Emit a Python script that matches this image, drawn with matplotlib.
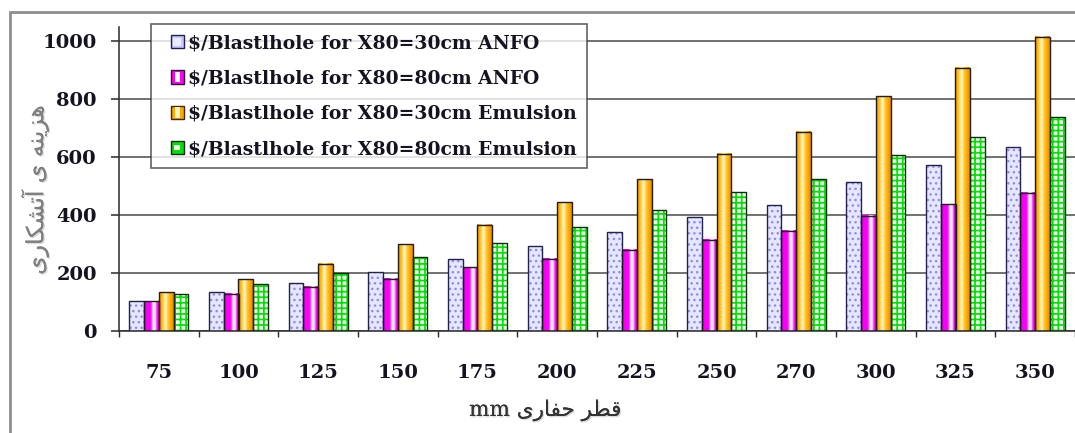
import numpy as np
import matplotlib
matplotlib.use("Agg")
import matplotlib.pyplot as plt
from matplotlib.colors import LinearSegmentedColormap
from matplotlib.patches import Rectangle
from matplotlib.legend_handler import HandlerBase
import matplotlib.patheffects as pe

# ---- data -------------------------------------------------------------
diameters = ["75", "100", "125", "150", "175", "200", "225", "250", "270", "300", "325", "350"]
anfo_x30 = [103, 134, 167, 205, 250, 294, 342, 394, 435, 513, 575, 636]
anfo_x80 = [103, 128, 153, 181, 221, 250, 280, 316, 346, 398, 437, 477]
emul_x30 = [133, 178, 233, 299, 367, 444, 524, 612, 688, 810, 910, 1017]
emul_x80 = [129, 164, 202, 257, 305, 360, 417, 479, 525, 607, 669, 738]
series_labels = [
    "$/Blastlhole for X80=30cm ANFO",
    "$/Blastlhole for X80=80cm ANFO",
    "$/Blastlhole for X80=30cm Emulsion",
    "$/Blastlhole for X80=80cm Emulsion",
]
y_ticks = [0, 200, 400, 600, 800, 1000]
y_title = "هزینه ی آتشکاری"
x_title = "قطر حفاری mm"

# ---- minimal Persian shaping (presentation forms, visual order) ------
FORMS = {
    'ا': ('\uFE8D', '\uFE8E'),
    'آ': ('\uFE81', '\uFE82'),
    'ر': ('\uFEAD', '\uFEAE'),
    'ز': ('\uFEAF', '\uFEB0'),
    'ت': ('\uFE95', '\uFE96', '\uFE97', '\uFE98'),
    'ح': ('\uFEA1', '\uFEA2', '\uFEA3', '\uFEA4'),
    'ش': ('\uFEB5', '\uFEB6', '\uFEB7', '\uFEB8'),
    'ط': ('\uFEC1', '\uFEC2', '\uFEC3', '\uFEC4'),
    'ف': ('\uFED1', '\uFED2', '\uFED3', '\uFED4'),
    'ق': ('\uFED5', '\uFED6', '\uFED7', '\uFED8'),
    'ک': ('\uFB8E', '\uFB8F', '\uFB90', '\uFB91'),
    'ن': ('\uFEE5', '\uFEE6', '\uFEE7', '\uFEE8'),
    'ه': ('\uFEE9', '\uFEEA', '\uFEEB', '\uFEEC'),
    'ی': ('\uFBFC', '\uFBFD', '\uFBFE', '\uFBFF'),
}


def shape_word(word):
    out = []
    for i, ch in enumerate(word):
        if ch not in FORMS:
            out.append(ch)
            continue
        prev = word[i - 1] if i > 0 else None
        nxt = word[i + 1] if i + 1 < len(word) else None
        jp = prev in FORMS and len(FORMS[prev]) == 4
        jn = len(FORMS[ch]) == 4 and nxt in FORMS
        idx = 3 if (jp and jn) else 1 if jp else 2 if jn else 0
        out.append(FORMS[ch][idx])
    return "".join(out)


def rtl(text):
    words = text.split(" ")
    vis = []
    for w in reversed(words):
        if any(c in FORMS for c in w):
            vis.append(shape_word(w)[::-1])
        else:
            vis.append(w)
    return " ".join(vis)


# ---- figure -----------------------------------------------------------
W, H = 1075, 433
fig = plt.figure(figsize=(W / 100, H / 100), dpi=100)
fig.patch.set_facecolor("white")

ax_left, ax_right, ax_top, ax_bottom = 119, 1075, 27, 331
ax = fig.add_axes([ax_left / W, 1 - ax_bottom / H, (ax_right - ax_left) / W, (ax_bottom - ax_top) / H])

# chart-area border
fig.add_artist(Rectangle((10 / W, -0.1), 1.2, 1.1 - 12 / H, transform=fig.transFigure,
                         fill=False, edgecolor="#8e8e8e", lw=2.0))

n = len(diameters)
x = np.arange(n)
bw = 0.185
offs = (np.arange(4) - 1.5) * bw
edge = "#1e1e1e"

ax.set_xlim(-0.5, n - 0.5)
ax.set_ylim(0, 1050)
ax.set_axisbelow(True)
ax.yaxis.grid(True, color="#4a4a4a", lw=1.1, zorder=0)

# series 1: lavender with blue dots
ax.bar(x + offs[0], anfo_x30, bw, color="#E6E6FF", edgecolor="#8C8CF0", hatch="...", lw=0, zorder=2)
ax.bar(x + offs[0], anfo_x30, bw, fill=False, edgecolor="#22224a", lw=1.0, zorder=3)

# series 2 & 3: cylinder-like horizontal gradients
mag_cmap = LinearSegmentedColormap.from_list("mag", [
    (0.0, "#F000F0"), (0.45, "#FF00FF"), (0.62, "#FFFFFF"), (0.76, "#FFD8FF"),
    (0.88, "#FF10FF"), (1.0, "#E800E8")])
org_cmap = LinearSegmentedColormap.from_list("org", [
    (0.0, "#EE8A00"), (0.15, "#FFB000"), (0.3, "#FFD660"), (0.45, "#FFF8D6"),
    (0.6, "#FFCC33"), (0.8, "#FFA800"), (1.0, "#EC8800")])
grad = np.linspace(0, 1, 64)[None, :]
for vals, off, cmap in ((anfo_x80, offs[1], mag_cmap), (emul_x30, offs[2], org_cmap)):
    for xi, v in zip(x, vals):
        ax.imshow(grad, cmap=cmap, extent=(xi + off - bw / 2, xi + off + bw / 2, 0, v),
                  aspect="auto", interpolation="bilinear", zorder=2)
    ax.bar(x + off, vals, bw, fill=False, edgecolor=edge, lw=1.0, zorder=3)

# series 4: green lattice with white squares
b4 = ax.bar(x + offs[3], emul_x80, bw, color="#F8FFF8", edgecolor="#00E000", hatch="+++", lw=0, zorder=2)
for p in b4:
    if hasattr(p, "set_hatch_linewidth"):
        p.set_hatch_linewidth(1.25)
ax.bar(x + offs[3], emul_x80, bw, fill=False, edgecolor="#0f2a0f", lw=1.0, zorder=3)

ax.set_xlim(-0.5, n - 0.5)
ax.set_ylim(0, 1050)

# axes styling
for s in ("top", "right"):
    ax.spines[s].set_visible(False)
for s in ("left", "bottom"):
    ax.spines[s].set_color("#2a2a2a")
    ax.spines[s].set_linewidth(1.1)

tick_font = dict(family="DejaVu Serif", weight="bold", size=14, color="#141420")
ax.set_yticks(y_ticks)
ax.set_yticklabels([str(t) for t in y_ticks], fontdict=tick_font)
ax.tick_params(axis="y", length=6, width=1.1, color="#2a2a2a", pad=10)
ax.set_xticks(x)
ax.set_xticklabels(diameters, fontdict=tick_font)
ax.tick_params(axis="x", which="major", length=0, pad=24)
ax.set_xticks(np.arange(n + 1) - 0.5, minor=True)
ax.tick_params(axis="x", which="minor", length=4, width=1.0, color="#2a2a2a")

# titles
shadow = [pe.withSimplePatchShadow(offset=(1, -1), shadow_rgbFace="#bbbbbb", alpha=0.5), pe.Normal()]
fig.text(35 / W, 1 - 190 / H, rtl(y_title), rotation=90, ha="center", va="center",
         family=["DejaVu Sans"], size=17, color="#808080", path_effects=shadow)
fig.text(545 / W, 1 - 410 / H, rtl(x_title), ha="center", va="center",
         family=["DejaVu Serif", "DejaVu Sans"], size=15.5, color="#333333", path_effects=shadow)


# legend swatches
class Swatch:
    def __init__(self, side, center, cw, ch, edgec):
        self.side, self.center, self.cw, self.ch, self.edgec = side, center, cw, ch, edgec


class SwatchHandler(HandlerBase):
    def create_artists(self, legend, h, xd, yd, width, height, fontsize, trans):
        s = min(width, height)
        x0 = width - s - xd
        y0 = -yd + (height - s) / 2
        outer = Rectangle((x0, y0), s, s, facecolor=h.side, edgecolor=h.edgec, lw=1.0, transform=trans)
        inner = Rectangle((x0 + s * (1 - h.cw) / 2, y0 + s * (1 - h.ch) / 2), s * h.cw, s * h.ch,
                          facecolor=h.center, edgecolor="none", transform=trans)
        return [outer, inner]


handles = [
    Swatch("#C8C8FF", "#ECECFF", 0.6, 0.6, "#22224a"),
    Swatch("#FF00FF", "#FFFFFF", 0.35, 0.8, "#301030"),
    Swatch("#FFA800", "#FFF4C0", 0.35, 0.8, "#40280a"),
    Swatch("#00E000", "#F0FFF0", 0.45, 0.45, "#0f2a0f"),
]
leg = ax.legend(handles, series_labels, handler_map={Swatch: SwatchHandler()},
                loc="upper left", bbox_to_anchor=(151 / W, 1 - 24 / H), bbox_transform=fig.transFigure,
                prop=dict(family="DejaVu Serif", weight="bold", size=13.5), labelcolor="#141420",
                frameon=True, fancybox=False, borderaxespad=0, borderpad=0.55,
                handlelength=1.2, handleheight=0.7, handletextpad=0.2, labelspacing=0.92)
leg.get_frame().set_edgecolor("#3a3a3a")
leg.get_frame().set_linewidth(1.2)
leg.set_zorder(5)

fig.savefig("out.png", dpi=100)
